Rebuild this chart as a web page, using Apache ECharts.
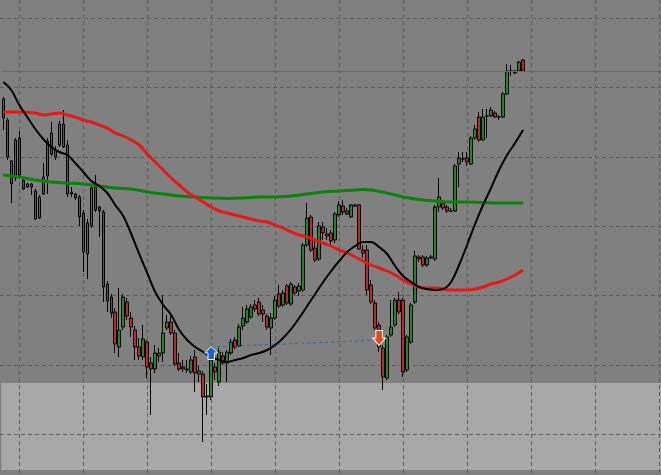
<!DOCTYPE html>
<html><head><meta charset="utf-8">
<script src="https://cdn.jsdelivr.net/npm/echarts@6/dist/echarts.min.js"></script>
<style>html,body{margin:0;padding:0;background:#808080;overflow:hidden}#c{width:661px;height:475px}</style>
</head><body><div id="c"></div><script>
// bar slots (chart window has room for 165 bars, 131 are filled)
const categories = Array.from({length: 165}, (_, i) => 'bar ' + (i + 1));

// OHLC values (price units)
const opens = [405,384,343,326,366,324,317,317,313,286,
310,328,371,347,359,380,359,312,310,307,
291,250,278,317,297,292,220,207,192,157,
177,202,186,174,157,147,162,141,135,151,
151,176,182,171,141,137,135,132,147,130,
130,108,107,137,122,148,141,151,164,158,
178,182,187,199,202,194,188,176,186,210,
199,218,200,217,213,214,259,287,256,245,
277,270,271,264,289,298,293,287,299,299,
254,254,219,201,179,156,126,169,179,204,
204,134,162,202,245,247,239,247,245,297,
301,297,293,293,340,345,346,340,366,387,
364,388,388,391,387,387,410,433,433,433,
444];
const closes = [386,347,320,364,329,315,320,320,285,307,
327,363,350,354,380,357,310,310,306,287,
252,281,316,294,293,217,203,191,160,174,
207,188,177,157,148,165,137,135,151,148,
171,182,171,140,135,135,134,144,131,133,
107,107,144,132,152,141,152,162,157,177,
186,195,197,195,190,190,177,186,204,198,
211,201,220,211,218,259,286,254,244,278,
271,268,263,290,299,292,290,299,298,255,
251,214,202,176,157,127,167,177,204,192,
132,167,199,248,247,239,246,246,297,307,
296,293,293,338,346,345,342,366,375,364,
387,388,394,387,387,410,433,433,431,442,
433];
const lows = [374,344,301,323,327,314,316,309,284,285,
309,310,348,344,357,356,307,307,304,278,
232,225,276,292,267,202,192,186,151,147,
174,184,167,144,144,144,126,89,131,142,
142,174,169,138,133,132,131,130,112,122,
62,89,104,124,118,139,122,149,155,157,
174,180,185,192,188,182,174,149,184,196,
197,199,198,209,208,212,257,252,242,243,
264,264,258,261,287,289,289,286,297,254,
246,209,200,174,152,114,124,167,177,190,
127,132,160,200,242,237,237,245,243,292,
294,291,292,292,317,342,338,339,364,362,
363,366,387,386,384,386,409,428,430,432,
432];
const highs = [407,386,344,366,373,327,321,321,315,309,
341,366,382,358,383,394,364,317,311,309,
294,285,320,329,298,294,223,210,196,216,
210,206,192,178,166,179,164,147,159,156,
209,189,188,174,151,144,144,148,154,138,
133,120,150,141,156,152,154,165,167,180,
197,199,200,204,206,199,190,191,208,219,
214,220,222,219,221,261,301,289,264,282,
282,276,274,292,303,304,296,300,300,300,
259,259,224,204,182,159,169,204,206,212,
206,169,201,253,249,249,248,249,299,326,
304,299,296,340,352,352,352,368,379,392,
395,395,397,393,389,412,440,439,434,443,
445];

// moving averages: [bar index, value]
const maRed = [[0,392],[4,392],[8,391],[10,389],[12,390],[14,391],[16,389],[18,387],[20,384],[22,382],[24,379],[26,376],[28,371],[30,368],[32,364],[34,359],[36,350],[38,342],[40,334],[42,326],[44,319],[46,312],[48,307],[50,302],[52,297],[54,293],[56,291],[58,289],[60,287],[62,285],[64,283],[66,282],[68,279],[70,276],[72,272],[74,269],[76,267],[78,264],[80,261],[82,258],[84,254],[86,251],[88,247],[90,243],[92,239],[94,236],[96,233],[98,229],[100,224],[102,220],[104,217],[106,216],[108,216],[110,215],[112,214],[114,214],[116,214],[118,215],[120,217],[122,220],[124,222],[126,225],[128,229],[130,234]];
const maGreen = [[0,329],[4,327],[8,324],[12,322],[16,321],[20,320],[24,318],[28,316],[32,315],[36,312],[40,310],[44,308],[48,307],[52,306],[56,305.5],[60,306],[64,307],[68,307],[72,308],[76,310],[80,312],[84,313],[88,314],[90,314.5],[92,314],[94,312.5],[96,311],[98,309],[100,307],[104,304.5],[108,303],[112,302],[116,302],[120,301.5],[124,301],[130,301]];
const maBlack = [[0,422],[2,414],[4,399],[6,387],[8,375],[10,365],[12,357],[14,352],[16,349],[18,341],[20,332],[22,323],[24,318],[26,311],[28,299],[30,288],[32,270],[34,250],[36,231],[38,212],[40,199],[42,189],[44,174],[46,164],[48,157],[50,152],[52,147],[54,144],[56,142],[58,144],[60,146],[62,149],[64,151],[66,154],[68,159],[70,166],[72,175],[74,186],[76,198],[78,210],[80,222],[82,233],[84,243],[86,252],[88,258],[90,262],[92,262],[94,257],[96,250],[98,238],[100,228],[102,222],[104,217],[106,215],[108,214],[110,215],[112,222],[114,239],[116,259],[118,280],[120,299],[122,316],[124,334],[126,349],[128,361],[130,374]];

// trade: buy arrow, close arrow, connecting line
const buyTrade = [52, 157];
const closeTrade = [94, 164];
const buyArrow = [52, 151];
const closeArrow = [94, 166];

const levelLine = 433;        // horizontal level
const zoneRange = [34, 121];  // lighter zone
const priceRange = [29, 504]; // visible price range

const chart = echarts.init(document.getElementById('c'), null, {renderer: 'canvas'});
const dash = {color: '#5c5c5c', width: 1, type: [4, 3]};
const hidden = {axisLine: {show: false}, axisTick: {show: false}, axisLabel: {show: false}};
chart.setOption({
  animation: false,
  backgroundColor: '#808080',
  grid: [
    {left: 1.3, width: 659.7, top: 0, height: 475, show: false, outerBoundsMode: 'none', containLabel: false},
    {left: 19.5, width: 640, top: 0, height: 475, show: false, outerBoundsMode: 'none', containLabel: false},
    {left: 0, width: 661, top: 18.33, height: 416, show: false, outerBoundsMode: 'none', containLabel: false}
  ],
  xAxis: [
    {type: 'category', data: categories, gridIndex: 0, show: false, boundaryGap: true},
    Object.assign({type: 'value', gridIndex: 1, min: 0, max: 10, interval: 1, z: 2,
     splitLine: {show: true, lineStyle: dash}}, hidden),
    Object.assign({type: 'value', gridIndex: 2, min: 0, max: 1, z: 2,
     splitLine: {show: false}}, hidden)
  ],
  yAxis: [
    {type: 'value', gridIndex: 0, min: priceRange[0], max: priceRange[1], show: false, splitLine: {show: false}},
    Object.assign({type: 'value', gridIndex: 1, min: 0, max: 1, z: 2,
     splitLine: {show: false}}, hidden),
    Object.assign({type: 'value', gridIndex: 2, min: 0, max: 6, interval: 1, z: 2,
     splitLine: {show: true, lineStyle: dash}}, hidden)
  ],
  series: [
    {type: 'line', xAxisIndex: 0, yAxisIndex: 0, data: [], z: 0, silent: true,
     markArea: {silent: true, z: 0, zlevel: 0, itemStyle: {color: '#a8a8a8'},
       data: [[{yAxis: zoneRange[0]}, {yAxis: zoneRange[1]}]]}},
    {type: 'candlestick', xAxisIndex: 0, yAxisIndex: 0, z: 3, barWidth: 3,
     data: opens.map((o, i) => [o, closes[i], lows[i], highs[i]]),
     itemStyle: {color: '#1c8a1c', color0: '#c42626', borderColor: '#000', borderColor0: '#000', borderWidth: 1}},
    {type: 'line', name: 'slow', data: maGreen, z: 4, smooth: 0.4, showSymbol: false,
     lineStyle: {color: '#0b820b', width: 3}},
    {type: 'line', name: 'mid', data: maRed, z: 5, smooth: 0.4, showSymbol: false,
     lineStyle: {color: '#e41a1a', width: 3}},
    {type: 'line', name: 'fast', data: maBlack, z: 6, smooth: 0.4, showSymbol: false,
     lineStyle: {color: '#000', width: 2}},
    {type: 'line', data: [], z: 7, silent: true,
     markLine: {silent: true, symbol: ['none', 'none'], label: {show: false},
       lineStyle: {color: '#cc3a58', width: 1, type: 'solid'},
       data: [{yAxis: levelLine}]}},
    {type: 'line', data: [buyTrade, closeTrade], z: 8, showSymbol: false,
     lineStyle: {color: '#2f64b4', width: 1, type: [3, 3]}},
    {type: 'scatter', data: [buyArrow], z: 9, symbolSize: [13, 13],
     symbol: 'path://M6,0 L12,6 L9,6 L9,12 L3,12 L3,6 L0,6 Z',
     itemStyle: {color: '#1f63c6', borderColor: '#fff', borderWidth: 1, opacity: 1}},
    {type: 'scatter', data: [closeArrow], z: 9, symbolSize: [13, 15],
     symbol: 'path://M3,0 L9,0 L9,7 L12,7 L6,14 L0,7 L3,7 Z',
     itemStyle: {color: '#e8471e', borderColor: '#fff', borderWidth: 1, opacity: 1}}
  ]
});
</script></body></html>
